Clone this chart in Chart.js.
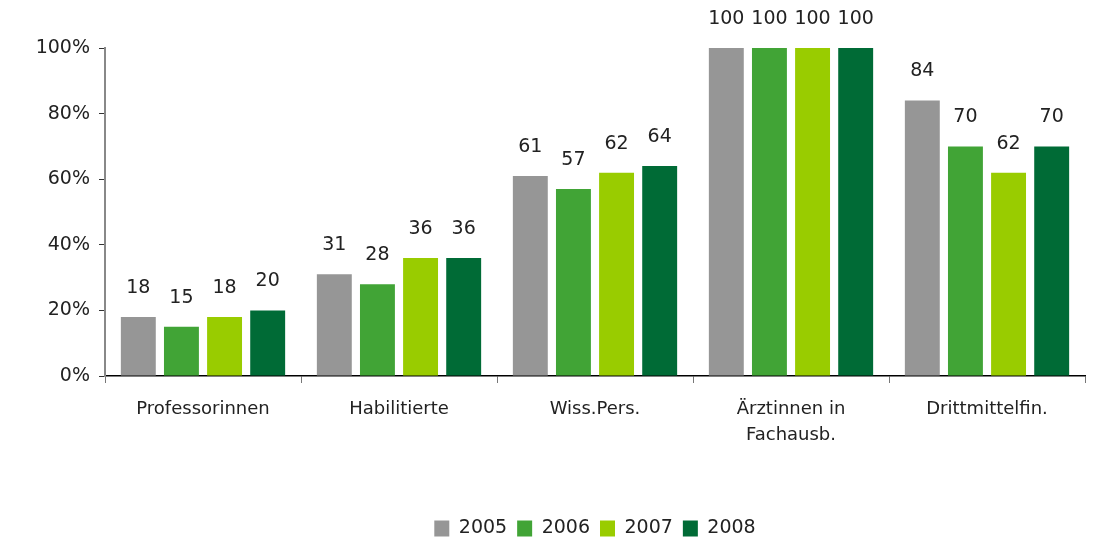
<!DOCTYPE html>
<html>
<head>
<meta charset="UTF-8">
<style>
  body { margin: 0; background: #fff; }
  .box { width: 1103px; height: 542px; }
</style>
</head>
<body>
<div class="box"><canvas id="myChart"></canvas></div>
<script src="https://cdn.jsdelivr.net/npm/chart.js"></script>
<script>
// data
var categories = ["Professorinnen", "Habilitierte", "Wiss.Pers.", ["Ärztinnen in", "Fachausb."], "Drittmittelfin."];
var years = ["2005", "2006", "2007", "2008"];
var values_2005 = [18, 31, 61, 100, 84];
var values_2006 = [15, 28, 57, 100, 70];
var values_2007 = [18, 36, 62, 100, 62];
var values_2008 = [20, 36, 64, 100, 70];
var yTicks = [0, 20, 40, 60, 80, 100];

var colors = ["#969696", "#41a436", "#99cc00", "#006b36"];
var series = [values_2005, values_2006, values_2007, values_2008];

// numbers over the bars
var valueLabels = {
  id: "valueLabels",
  afterDatasetsDraw: function(chart) {
    var ctx = chart.ctx;
    ctx.save();
    ctx.font = "19px 'DejaVu Sans'";
    ctx.fillStyle = "#222";
    ctx.textAlign = "center";
    ctx.textBaseline = "middle";
    chart.data.datasets.forEach(function(ds, i) {
      chart.getDatasetMeta(i).data.forEach(function(bar, j) {
        ctx.fillText(ds.data[j], bar.x, bar.y - 29);
      });
    });
    ctx.restore();
  }
};

var datasets = [];
for (var i = 0; i < years.length; i++) {
  datasets.push({
    label: years[i],
    data: series[i],
    backgroundColor: colors[i],
    borderWidth: 0,
    categoryPercentage: 0.88,
    barPercentage: 0.81
  });
}

new Chart(document.getElementById("myChart"), {
  type: "bar",
  data: { labels: categories, datasets: datasets },
  options: {
    responsive: true,
    maintainAspectRatio: false,
    animation: false,
    layout: { padding: { top: 48, right: 18, bottom: -6, left: 0 } },
    plugins: {
      tooltip: { enabled: false },
      legend: {
        position: "bottom",
        fullSize: false,
        labels: {
          boxWidth: 15,
          boxHeight: 16,
          padding: 10,
          color: "#222",
          font: { family: "DejaVu Sans", size: 19 }
        }
      }
    },
    scales: {
      x: {
        afterFit: function(s) { s.height = 133; },
        grid: { drawOnChartArea: false, drawTicks: true, tickLength: 7, color: "#777", offset: true },
        border: { color: "#000", width: 1.5 },
        ticks: {
          color: "#222",
          padding: 13,
          maxRotation: 0,
          font: { family: "DejaVu Sans", size: 18, lineHeight: 1.45 }
        }
      },
      y: {
        min: 0,
        max: 100,
        afterFit: function(s) { s.width = 105; },
        afterBuildTicks: function(s) { s.ticks = yTicks.map(function(v) { return { value: v }; }); },
        grid: { drawOnChartArea: false, drawTicks: true, tickLength: 6, color: "#333" },
        border: { color: "#888", width: 2 },
        ticks: {
          color: "#222",
          padding: 9,
          font: { family: "DejaVu Sans", size: 19 },
          callback: function(v) { return v + "%"; }
        }
      }
    }
  },
  plugins: [valueLabels]
});
</script>
</body>
</html>
